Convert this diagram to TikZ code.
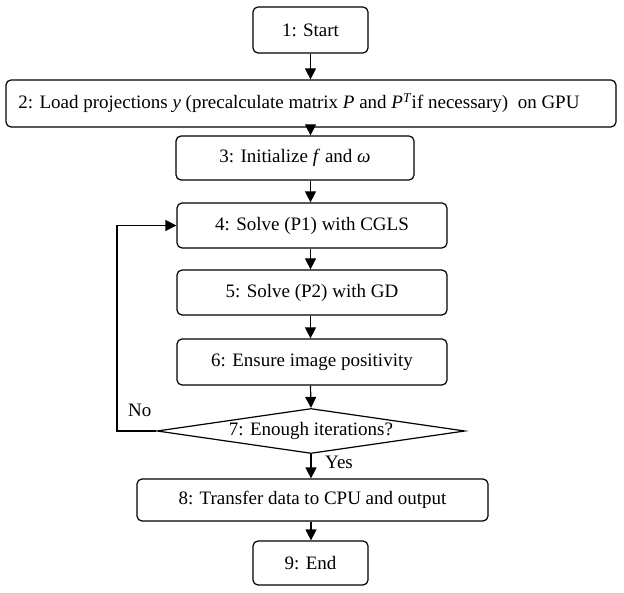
\documentclass[tikz,border=0pt]{standalone}
\usepackage{fontspec}
\setmainfont{Liberation Serif}
\usetikzlibrary{shapes.geometric,arrows.meta}
\begin{document}
\begin{tikzpicture}[x=1pt,y=-1pt,
  box/.style={draw,line width=1.2pt,rounded corners=5pt,inner sep=0pt,font=\fontsize{19}{22}\selectfont},
  dia/.style={draw,line width=1.2pt,diamond,aspect=6.8,inner sep=0pt,font=\fontsize{19}{22}\selectfont},
  lbl/.style={font=\fontsize{19}{22}\selectfont,inner sep=0pt},
  arr/.style={line width=1.2pt,-{Triangle[length=11pt,width=11pt]}}]
\useasboundingbox (0,0) rectangle (624,593);
\node[box,minimum width=115pt,minimum height=46pt] (n1) at (310.5,30) {1: Start};
\node[box,minimum width=610pt,minimum height=47pt] (n2) at (311,103.5) {2: Load projections \textit{y} (precalculate matrix \textit{P} and \textit{P}\textsuperscript{\textit{T}}if necessary)\ \ on GPU\rule{24pt}{0pt}};
\node[box,minimum width=238pt,minimum height=44pt] (n3) at (295,158) {3: Initialize \textit{f} and \textit{ω}};
\node[box,minimum width=270pt,minimum height=45pt] (n4) at (312,225.5) {4: Solve (P1) with CGLS};
\node[box,minimum width=270pt,minimum height=45pt] (n5) at (312,292.5) {5: Solve (P2) with GD};
\node[box,minimum width=270pt,minimum height=46pt] (n6) at (312,362) {6: Ensure image positivity};
\node[dia,minimum width=308pt,minimum height=45pt] (n7) at (311,431) {7: Enough iterations?};
\node[box,minimum width=351pt,minimum height=42pt] (n8) at (312.5,500) {8: Transfer data to CPU and output};
\node[box,minimum width=115pt,minimum height=44pt] (n9) at (310.5,563) {9: End};
\coordinate (c1) at (117,431);
\coordinate (c2) at (117,225.5);
\draw[arr] (n1.south) -- (n1.south|-n2.north);
\draw[arr] (n1.south|-n2.south) -- (n1.south|-n3.north);
\draw[arr] (n1.south|-n3.south) -- (n1.south|-n4.north);
\draw[arr] (n1.south|-n4.south) -- (n1.south|-n5.north);
\draw[arr] (n1.south|-n5.south) -- (n1.south|-n6.north);
\draw[arr] (n1.south|-n6.south) -- (n7.north);
\draw[arr] (n7.south) -- (n7.south|-n8.north);
\draw[arr] (n7.south|-n8.south) -- (n7.south|-n9.north);
\draw[arr] (n7.west) -- (c1) -- (c2) -- (n4.west);
\node[lbl,anchor=west] (no) at (128,410) {No};
\node[lbl,anchor=west] (yes) at (325,462) {Yes};
\end{tikzpicture}
\end{document}
